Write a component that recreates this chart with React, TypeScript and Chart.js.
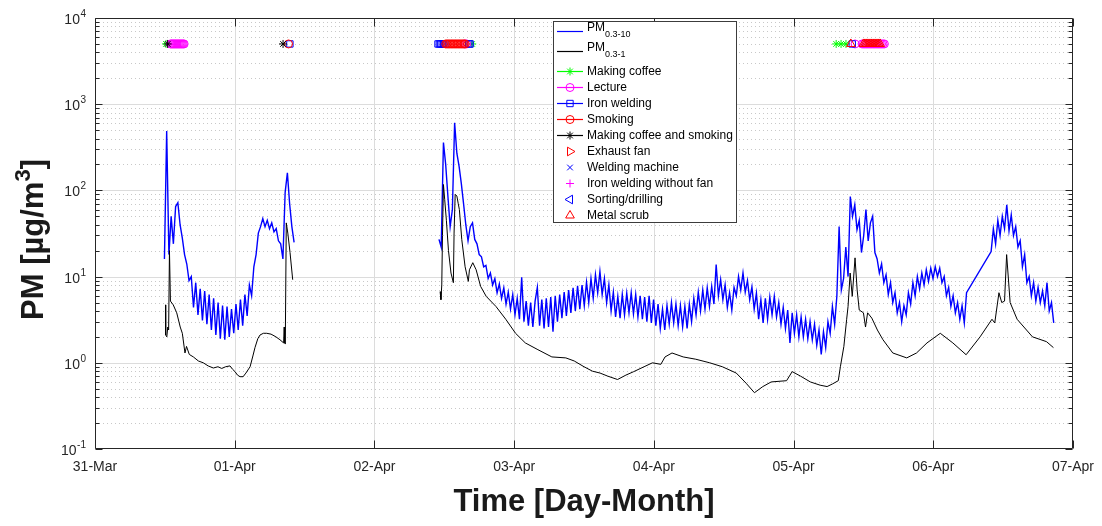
import React, { useEffect, useRef } from 'react';
import { Chart, registerables } from 'chart.js';

Chart.register(...registerables);

const FONT = "'Liberation Sans', Arial, Helvetica, sans-serif";
const AXIS_COLOR = '#262626';

// ---------- axis labels ----------
const dayLabels = ['31-Mar', '01-Apr', '02-Apr', '03-Apr', '04-Apr', '05-Apr', '06-Apr', '07-Apr'];
const decadeExponents = [-1, 0, 1, 2, 3, 4];
const xTitle = 'Time [Day-Month]';
const yTitleMain = 'PM [µg/m';
const yTitleSup = '3';
const yTitleEnd = ']';

// ---------- PM0.3-10 (uniformly sampled, time in days since 31-Mar 00:00) ----------
const pm10SampleStep = 0.016;
const pm10StartA = 0.497;
const pm10ValuesA = [
  16, 490, 18, 50, 24, 65, 72, 40, 28, 18, 14, 9, 10, 4.4, 8.5, 3.6, 7.2, 3.1, 6.8, 2.8,
  6.2, 2.4, 5.6, 2.1, 5.0, 1.9, 4.6, 1.85, 4.5, 2.0, 4.2, 2.2, 4.8, 2.4, 5.4, 2.7, 6.2, 3.5, 8, 6,
  13, 18, 32, 38, 47, 38, 45, 36, 42, 33, 36, 26, 24, 16, 95, 160, 70, 38, 25,
];
const pm10StartB = 2.462;
const pm10ValuesB = [
  27, 22, 360, 200, 85, 38, 60, 610, 270, 190,
  120, 70, 40, 26, 38, 42, 27, 24, 18, 17,
  13, 13.5, 9.5, 11, 8, 9.5, 6.5, 8.2, 5.6, 7.4,
  4.8, 6.6, 4.2, 6.2, 3.6, 5.6, 3.2, 9.8, 3.0, 5.2,
  2.7, 5.0, 2.6, 5.2, 7.5, 2.7, 5.4, 2.5, 5.6, 2.6,
  5.8, 2.3, 6.0, 3.0, 6.2, 3.3, 6.6, 3.5, 7.0, 3.8,
  7.4, 4.0, 7.8, 4.2, 8.0, 4.6, 8.6, 5.0, 9.5, 5.6,
  10.5, 6.5, 11.5, 6.2, 9.5, 5.0, 8.0, 4.0, 6.6, 3.4,
  5.9, 3.3, 6.2, 3.6, 6.4, 3.8, 6.5, 3.7, 6.2, 3.4,
  6.0, 3.2, 5.8, 3.0, 6.0, 2.9, 5.4, 2.7, 4.8, 2.5,
  4.2, 2.4, 4.6, 2.8, 5.0, 2.9, 4.8, 2.7, 4.6, 2.6,
  4.5, 2.5, 4.8, 3.0, 5.6, 3.6, 6.6, 4.0, 7.0, 4.2,
  7.4, 4.5, 7.7, 4.8, 13.8, 6.0, 9.2, 5.4, 8.0, 4.4,
  6.5, 4.1, 7.5, 6.0, 10.0, 7.0, 11.0, 6.6, 9.0, 5.4,
  7.6, 4.2, 6.4, 3.2, 5.4, 2.9, 5.6, 3.2, 5.8, 3.6,
  5.9, 3.4, 5.0, 2.8, 4.4, 2.5, 4.1, 1.7, 3.8, 2.2,
  3.6, 2.0, 3.4, 2.0, 3.2, 1.9, 3.0, 1.85, 2.8, 1.6,
  2.4, 1.25, 2.3, 1.5, 3.0, 2.2, 4.5, 2.8, 6.0, 38,
  7.0, 9.5, 22, 10, 85, 50, 68, 35, 45, 19,
  30, 60, 26, 42, 50, 19, 16, 11, 14, 8.5,
  10.5, 6.2, 8.5, 5.0, 6.5, 3.8, 5.0, 3.0, 4.6, 3.6,
  6.5, 4.8, 8.5, 6.0, 10.0, 7.2, 11.0, 8.0, 12.0, 8.8,
  12.5, 9.5, 13.0, 10.0, 12.5, 8.5, 10.0, 6.0, 7.5, 4.5,
  6.0, 3.8, 5.0, 3.2, 4.6, 2.9, 6.5,
];
const pm10StartC = 6.414;
const pm10ValuesC = [
  19.5, 36, 24, 45, 30, 50, 36, 68, 34, 52, 30, 38, 22, 26, 13, 18, 8.5, 10, 6.0, 8.5,
  5.2, 7.5, 5.0, 6.8, 4.6, 8.5, 4.0, 5.0, 2.9,
];

// ---------- PM0.3-1 ----------
const pm1TimesA = [
  0.505, 0.506, 0.514, 0.521, 0.527, 0.533, 0.54, 0.56, 0.585, 0.61, 0.625, 0.644, 0.655, 0.675,
  0.704, 0.74, 0.775, 0.81, 0.847, 0.88, 0.907, 0.935, 0.966, 0.985, 1.002, 1.02, 1.038, 1.06,
  1.08, 1.11, 1.13, 1.145, 1.165, 1.181, 1.205, 1.229, 1.26, 1.295, 1.324, 1.35, 1.354, 1.358,
  1.362, 1.369, 1.38, 1.396, 1.415,
];
const pm1ValuesA = [
  4.7, 2.1, 2.0, 2.6, 2.4, 20, 5.2, 4.7, 3.8, 2.6, 2.2, 1.3, 1.55, 1.25,
  1.17, 1.05, 1.0, 0.92, 0.87, 0.9, 0.86, 0.9, 0.92, 0.84, 0.79, 0.72, 0.69, 0.69,
  0.76, 0.9, 1.2, 1.5, 1.9, 2.1, 2.2, 2.2, 2.15, 2.0, 1.85, 1.7, 2.6, 1.7,
  1.65, 42, 32, 19, 9.2,
];
const pm1TimesB = [
  2.47, 2.476, 2.482, 2.487, 2.494, 2.503, 2.515, 2.53, 2.548, 2.565, 2.57, 2.578, 2.59, 2.6,
  2.608, 2.625, 2.649, 2.672, 2.68, 2.704, 2.728, 2.76, 2.8, 2.87, 2.94, 3.01, 3.08, 3.17,
  3.27, 3.37, 3.43, 3.5, 3.56, 3.615, 3.67, 3.74, 3.8, 3.856, 3.93, 3.99, 4.05, 4.08,
  4.13, 4.21, 4.3, 4.4, 4.49, 4.59, 4.66, 4.72, 4.78, 4.84, 4.95, 4.99, 5.05, 5.12,
  5.19, 5.24, 5.28, 5.32, 5.335, 5.36, 5.38, 5.39, 5.405, 5.42, 5.44, 5.455, 5.47, 5.5,
  5.515, 5.53, 5.56, 5.6, 5.64, 5.71, 5.81, 5.88, 5.955, 6.05, 6.14, 6.235, 6.335, 6.42,
  6.44, 6.47, 6.49, 6.51, 6.525, 6.55, 6.6, 6.71, 6.81, 6.86,
];
const pm1ValuesB = [
  6.7, 5.4, 8, 30, 117, 78, 45, 20, 11, 8.5, 32, 90, 86, 70,
  60, 27, 13, 8.8, 12, 14.5, 12, 7.7, 5.9, 4.5, 3.2, 2.2, 1.7, 1.42,
  1.17, 1.14, 1.05, 0.9, 0.8, 0.76, 0.7, 0.64, 0.72, 0.79, 0.9, 1.0, 0.96, 1.17,
  1.3, 1.17, 1.1, 1.0, 0.9, 0.76, 0.58, 0.45, 0.53, 0.6, 0.62, 0.79, 0.7, 0.6,
  0.55, 0.53, 0.57, 0.62, 0.9, 1.55, 3.2, 4.5, 11, 5.9, 16.5, 7, 4.1, 3.8,
  2.6, 3.8, 3.3, 2.4, 1.85, 1.3, 1.14, 1.3, 1.7, 2.2, 1.7, 1.24, 2.0, 3.2,
  2.9, 6.5, 5.0, 5.2, 18, 5.0, 3.2, 2.0, 1.76, 1.5,
];

// ---------- activity markers (drawn at a fixed level near the top) ----------
const EVENT_LEVEL = 5000;
const coffeeTimes = [0.508, 2.7, 5.305, 5.34, 5.375];
const lectureTimes = [
  0.54, 0.547, 0.554, 0.561, 0.568, 0.575, 0.582, 0.589, 0.596, 0.603, 0.61, 0.617, 0.624, 0.631,
  0.638, 2.645, 2.66, 5.44, 5.49, 5.5, 5.51, 5.52, 5.53, 5.54, 5.55, 5.56, 5.57, 5.58, 5.59, 5.6,
  5.61, 5.62, 5.63, 5.64, 5.65,
];
const ironWeldingTimes = [1.395, 2.455, 2.465, 2.475, 2.485, 2.495, 2.505, 2.675, 2.685, 5.42];
const smokingTimes = [
  1.385, 2.51, 2.52, 2.53, 2.54, 2.55, 2.56, 2.57, 2.58, 2.59, 2.6, 2.61, 2.62, 2.63, 2.64, 2.65,
];
const coffeeSmokingTimes = [0.52, 1.346];
const exhaustFanTimes: number[] = [];
const weldingMachineTimes: number[] = [];
const ironNoFanTimes: number[] = [];
const sortingTimes: number[] = [];
const metalScrubTimes = [
  5.41, 5.5, 5.51, 5.52, 5.53, 5.54, 5.55, 5.56, 5.57, 5.58, 5.59, 5.6, 5.61, 5.62,
];

type Marker = 'circle' | 'rect' | 'star' | 'triangle' | 'cross' | 'crossRot';
interface EventSeries {
  label: string;
  times: number[];
  color: string;
  marker: Marker;
  rotation: number;
  radius: number;
  legendLine: boolean;
}

const eventSeries: EventSeries[] = [
  { label: 'Making coffee', times: coffeeTimes, color: '#00ff00', marker: 'star', rotation: 0, radius: 4, legendLine: true },
  { label: 'Lecture', times: lectureTimes, color: '#ff00ff', marker: 'circle', rotation: 0, radius: 4, legendLine: true },
  { label: 'Iron welding', times: ironWeldingTimes, color: '#0000ff', marker: 'rect', rotation: 0, radius: 4.5, legendLine: true },
  { label: 'Smoking', times: smokingTimes, color: '#ff0000', marker: 'circle', rotation: 0, radius: 4, legendLine: true },
  { label: 'Making coffee and smoking', times: coffeeSmokingTimes, color: '#000000', marker: 'star', rotation: 0, radius: 4, legendLine: true },
  { label: 'Exhaust fan', times: exhaustFanTimes, color: '#ff0000', marker: 'triangle', rotation: 90, radius: 5, legendLine: false },
  { label: 'Welding machine', times: weldingMachineTimes, color: '#0000ff', marker: 'crossRot', rotation: 0, radius: 4, legendLine: false },
  { label: 'Iron welding without fan', times: ironNoFanTimes, color: '#ff00ff', marker: 'cross', rotation: 0, radius: 4, legendLine: false },
  { label: 'Sorting/drilling', times: sortingTimes, color: '#0000ff', marker: 'triangle', rotation: -90, radius: 5, legendLine: false },
  { label: 'Metal scrub', times: metalScrubTimes, color: '#ff0000', marker: 'triangle', rotation: 0, radius: 5, legendLine: false },
];

// ---------- build data ----------
const uniformSegment = (start: number, values: number[]) =>
  values.map((v, i) => ({ x: start + i * pm10SampleStep, y: v }));
const pairSegment = (times: number[], values: number[]) => times.map((t, i) => ({ x: t, y: values[i] }));

const pm10Data = [
  ...uniformSegment(pm10StartA, pm10ValuesA),
  { x: 1.9, y: null as any },
  ...uniformSegment(pm10StartB, pm10ValuesB),
  ...uniformSegment(pm10StartC, pm10ValuesC),
];
const pm1Data = [...pairSegment(pm1TimesA, pm1ValuesA), { x: 1.9, y: null as any }, ...pairSegment(pm1TimesB, pm1ValuesB)];

// ---------- drawing helpers ----------
function drawMarker(ctx: CanvasRenderingContext2D, style: Marker, x: number, y: number, r: number, rotDeg: number, color: string) {
  const rad = (rotDeg * Math.PI) / 180;
  ctx.save();
  ctx.strokeStyle = color;
  ctx.lineWidth = 1;
  ctx.beginPath();
  if (style === 'circle') {
    ctx.arc(x, y, r, 0, Math.PI * 2);
  } else if (style === 'rect') {
    const s = r * Math.SQRT1_2;
    ctx.rect(x - s, y - s, 2 * s, 2 * s);
  } else if (style === 'triangle') {
    for (let k = 0; k < 3; k++) {
      const a = rad + (k * 2 * Math.PI) / 3;
      const px = x + Math.sin(a) * r;
      const py = y - Math.cos(a) * r;
      if (k === 0) ctx.moveTo(px, py);
      else ctx.lineTo(px, py);
    }
    ctx.closePath();
  } else {
    if (style === 'cross' || style === 'star') {
      ctx.moveTo(x - r, y); ctx.lineTo(x + r, y);
      ctx.moveTo(x, y - r); ctx.lineTo(x, y + r);
    }
    if (style === 'crossRot' || style === 'star') {
      const d = r * Math.SQRT1_2;
      ctx.moveTo(x - d, y - d); ctx.lineTo(x + d, y + d);
      ctx.moveTo(x - d, y + d); ctx.lineTo(x + d, y - d);
    }
  }
  ctx.stroke();
  ctx.restore();
}

const matlabAxes = {
  id: 'matlabAxes',
  beforeDatasetsDraw(chart: any) {
    const { ctx, chartArea } = chart;
    const { left, right, top, bottom } = chartArea;
    const xs = chart.scales.x;
    const ys = chart.scales.y;
    ctx.save();
    ctx.lineWidth = 1;
    ctx.strokeStyle = '#c8c8c8';
    ctx.setLineDash([1, 3]);
    for (let i = 0; i < decadeExponents.length - 1; i++) {
      const base = Math.pow(10, decadeExponents[i]);
      for (let m = 2; m <= 9; m++) {
        const py = Math.round(ys.getPixelForValue(base * m)) + 0.5;
        ctx.beginPath(); ctx.moveTo(left, py); ctx.lineTo(right, py); ctx.stroke();
      }
    }
    ctx.setLineDash([]);
    ctx.strokeStyle = '#dcdcdc';
    for (let i = 1; i < decadeExponents.length - 1; i++) {
      const py = Math.round(ys.getPixelForValue(Math.pow(10, decadeExponents[i]))) + 0.5;
      ctx.beginPath(); ctx.moveTo(left, py); ctx.lineTo(right, py); ctx.stroke();
    }
    for (let d = 1; d < dayLabels.length - 1; d++) {
      const px = Math.round(xs.getPixelForValue(d)) + 0.5;
      ctx.beginPath(); ctx.moveTo(px, top); ctx.lineTo(px, bottom); ctx.stroke();
    }
    ctx.restore();
  },
  afterDatasetsDraw(chart: any) {
    const { ctx, chartArea } = chart;
    const { left, right, top, bottom } = chartArea;
    const xs = chart.scales.x;
    const ys = chart.scales.y;
    const L = Math.round(left) + 0.5, R = Math.round(right) - 0.5;
    const T = Math.round(top) + 0.5, B = Math.round(bottom) - 0.5;
    ctx.save();
    ctx.strokeStyle = AXIS_COLOR;
    ctx.lineWidth = 1;
    ctx.beginPath();
    ctx.rect(L, T, R - L, B - T);
    for (let i = 0; i < decadeExponents.length; i++) {
      const base = Math.pow(10, decadeExponents[i]);
      const py0 = Math.round(ys.getPixelForValue(base)) + 0.5;
      ctx.moveTo(L, py0); ctx.lineTo(L + 7, py0);
      ctx.moveTo(R, py0); ctx.lineTo(R - 7, py0);
      if (i < decadeExponents.length - 1) {
        for (let m = 2; m <= 9; m++) {
          const py = Math.round(ys.getPixelForValue(base * m)) + 0.5;
          ctx.moveTo(L, py); ctx.lineTo(L + 4, py);
          ctx.moveTo(R, py); ctx.lineTo(R - 4, py);
        }
      }
    }
    for (let d = 0; d < dayLabels.length; d++) {
      const px = Math.round(xs.getPixelForValue(d)) + 0.5;
      ctx.moveTo(px, B); ctx.lineTo(px, B - 8);
      ctx.moveTo(px, T); ctx.lineTo(px, T + 8);
    }
    ctx.stroke();
    ctx.restore();
  },
  afterDraw(chart: any) {
    const { ctx, chartArea } = chart;
    const ys = chart.scales.y;
    const { left, right, top, bottom } = chartArea;
    ctx.save();
    ctx.fillStyle = AXIS_COLOR;
    ctx.textBaseline = 'alphabetic';
    ctx.textAlign = 'right';
    for (const e of decadeExponents) {
      const py = ys.getPixelForValue(Math.pow(10, e));
      const expStr = String(e);
      ctx.font = `10px ${FONT}`;
      const ew = ctx.measureText(expStr).width;
      const xr = left - 9;
      ctx.fillText(expStr, xr, py - 1);
      ctx.font = `14px ${FONT}`;
      ctx.fillText('10', xr - ew - 0.5, py + 6);
    }
    // x title
    ctx.fillStyle = '#1a1a1a';
    ctx.textAlign = 'center';
    ctx.font = `bold 31px ${FONT}`;
    ctx.fillText(xTitle, (left + right) / 2, 511);
    // y title (rotated, with superscript)
    ctx.save();
    ctx.translate(43, (top + bottom) / 2 + 6);
    ctx.rotate(-Math.PI / 2);
    ctx.textAlign = 'left';
    const mainFont = `bold 31px ${FONT}`;
    const supFont = `bold 22px ${FONT}`;
    ctx.font = mainFont;
    const w1 = ctx.measureText(yTitleMain).width;
    const w3 = ctx.measureText(yTitleEnd).width;
    ctx.font = supFont;
    const w2 = ctx.measureText(yTitleSup).width;
    const total = w1 + w2 + w3;
    let cx = -total / 2;
    ctx.font = mainFont;
    ctx.fillText(yTitleMain, cx, 0);
    cx += w1;
    ctx.font = supFont;
    ctx.fillText(yTitleSup, cx, -13);
    cx += w2;
    ctx.font = mainFont;
    ctx.fillText(yTitleEnd, cx, 0);
    ctx.restore();

    // legend
    const bx = 553.5, by = 21.5, bw = 183, bh = 201;
    ctx.fillStyle = '#ffffff';
    ctx.fillRect(bx, by, bw, bh);
    ctx.strokeStyle = '#3c3c3c';
    ctx.lineWidth = 1;
    ctx.strokeRect(bx, by, bw, bh);
    const pmRowY = [31, 51];
    const eventRowY = (j: number) => 71 + j * 16;
    const lineX0 = 557, lineX1 = 583, markX = 570, textX = 587;
    const drawLegendLine = (y: number, color: string) => {
      ctx.strokeStyle = color;
      ctx.lineWidth = 1.2;
      ctx.beginPath();
      ctx.moveTo(lineX0, Math.round(y) + 0.5);
      ctx.lineTo(lineX1, Math.round(y) + 0.5);
      ctx.stroke();
    };
    ctx.textAlign = 'left';
    ctx.textBaseline = 'middle';
    const pmEntries = [
      { label: 'PM', sub: '0.3-10', color: '#0000ff' },
      { label: 'PM', sub: '0.3-1', color: '#000000' },
    ];
    pmEntries.forEach((en, i) => {
      const y = pmRowY[i];
      drawLegendLine(y, en.color);
      ctx.fillStyle = '#000000';
      ctx.font = `12px ${FONT}`;
      ctx.fillText(en.label, textX, y - 3);
      const w = ctx.measureText(en.label).width;
      ctx.font = `9px ${FONT}`;
      ctx.fillText(en.sub, textX + w, y + 4);
    });
    eventSeries.forEach((s, j) => {
      const y = eventRowY(j);
      if (s.legendLine) drawLegendLine(y, s.color);
      drawMarker(ctx, s.marker, markX, Math.round(y) + 0.5, s.radius, s.rotation, s.color);
      ctx.fillStyle = '#000000';
      ctx.font = `12px ${FONT}`;
      ctx.fillText(s.label, textX, y + 1);
    });
    ctx.restore();
  },
};

export default function App() {
  const canvasRef = useRef<HTMLCanvasElement | null>(null);

  useEffect(() => {
    const canvas = canvasRef.current;
    if (!canvas) return;

    const eventDatasets = eventSeries.map((s, idx) => ({
      label: s.label,
      data: s.times.map((t) => ({ x: t, y: EVENT_LEVEL })),
      showLine: false,
      pointStyle: s.marker,
      pointRotation: s.rotation,
      pointRadius: s.radius,
      pointBorderWidth: 1,
      pointBorderColor: s.color,
      pointBackgroundColor: 'rgba(0,0,0,0)',
      borderColor: s.color,
      order: 20 - idx,
    }));

    const chart = new Chart(canvas, {
      type: 'scatter',
      data: {
        datasets: [
          {
            label: 'PM0.3-10',
            data: pm10Data,
            showLine: true,
            borderColor: '#0000ff',
            borderWidth: 1.4,
            pointRadius: 0,
            spanGaps: false,
            tension: 0,
            order: 40,
          },
          {
            label: 'PM0.3-1',
            data: pm1Data,
            showLine: true,
            borderColor: '#000000',
            borderWidth: 1,
            pointRadius: 0,
            spanGaps: false,
            tension: 0,
            order: 30,
          },
          ...eventDatasets,
        ] as any,
      },
      options: {
        animation: false,
        responsive: false,
        devicePixelRatio: 1,
        events: [],
        layout: { padding: { left: 0, top: 18, right: 29, bottom: 0 } },
        plugins: {
          legend: { display: false },
          tooltip: { enabled: false },
        },
        scales: {
          x: {
            type: 'linear',
            min: 0,
            max: dayLabels.length - 1,
            grid: { display: false, drawTicks: false },
            border: { display: false },
            ticks: {
              stepSize: 1,
              autoSkip: false,
              maxRotation: 0,
              padding: 10,
              color: AXIS_COLOR,
              font: { family: FONT, size: 14 },
              callback: (v: any) => dayLabels[Math.round(Number(v))] ?? '',
            },
            afterFit: (scale: any) => {
              scale.height = 77;
              scale.paddingLeft = 0;
              scale.paddingRight = 0;
            },
          },
          y: {
            type: 'logarithmic',
            min: Math.pow(10, decadeExponents[0]),
            max: Math.pow(10, decadeExponents[decadeExponents.length - 1]),
            grid: { display: false, drawTicks: false },
            border: { display: false },
            ticks: { display: false },
            afterFit: (scale: any) => {
              scale.width = 95;
              scale.paddingTop = 0;
              scale.paddingBottom = 0;
            },
          },
        },
      } as any,
      plugins: [matlabAxes],
    });

    return () => chart.destroy();
  }, []);

  return (
    <div style={{ position: 'fixed', left: 0, top: 0, width: 1102, height: 526, background: '#ffffff' }}>
      <canvas ref={canvasRef} width={1102} height={526} style={{ display: 'block', width: 1102, height: 526 }} />
    </div>
  );
}
